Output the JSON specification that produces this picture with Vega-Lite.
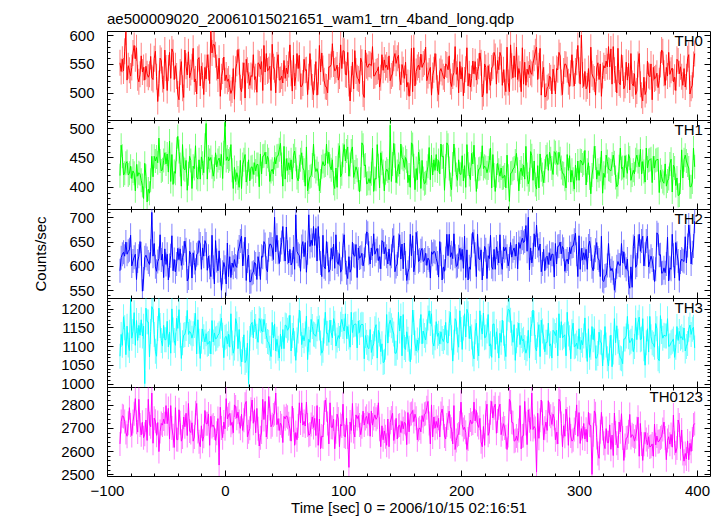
{
"$schema": "https://vega.github.io/schema/vega-lite/v6.json",
"background": "white",
"padding": {"left": 32, "top": 11, "right": 5, "bottom": 0},
"spacing": 0,
"bounds": "flush",
"config": {
 "view": {"stroke": "black", "strokeWidth": 1},
 "font": "Liberation Sans",
 "axis": {"grid": false, "domain": false, "format": "d", "tickColor": "black", "labelColor": "black", "labelFontSize": 15, "labelFont": "Liberation Sans", "titleFont": "Liberation Sans", "titleFontSize": 15, "titleFontWeight": "normal", "titleColor": "black", "labelFlush": false, "labelOverlap": false, "labelBound": false, "zindex": 2, "tickWidth": 1}
},
"data": {"values": [
{"t":-89,"a":552,"b":419,"c":590,"d":1073,"e":2631},
{"t":-88,"a":537,"b":471,"c":617,"d":1131,"e":2727},
{"t":-87,"a":558,"b":452,"c":624,"d":1102,"e":2752},
{"t":-86,"a":538,"b":420,"c":628,"d":1178,"e":2749},
{"t":-85,"a":572,"b":423,"c":620,"d":1149,"e":2727},
{"t":-84,"a":605,"b":440,"c":649,"d":1077,"e":2680},
{"t":-83,"a":522,"b":443,"c":624,"d":1153,"e":2664},
{"t":-82,"a":547,"b":420,"c":630,"d":1103,"e":2720},
{"t":-81,"a":539,"b":423,"c":633,"d":1088,"e":2787},
{"t":-80,"a":529,"b":435,"c":663,"d":1225,"e":2712},
{"t":-79,"a":544,"b":414,"c":600,"d":1121,"e":2667},
{"t":-78,"a":569,"b":427,"c":610,"d":1139,"e":2727},
{"t":-77,"a":582,"b":423,"c":618,"d":1189,"e":2761},
{"t":-76,"a":559,"b":393,"c":624,"d":1102,"e":2826},
{"t":-75,"a":578,"b":438,"c":572,"d":1168,"e":2724},
{"t":-74,"a":526,"b":418,"c":610,"d":1115,"e":2682},
{"t":-73,"a":519,"b":424,"c":620,"d":1155,"e":2823},
{"t":-72,"a":532,"b":422,"c":650,"d":1129,"e":2712},
{"t":-71,"a":564,"b":411,"c":625,"d":1170,"e":2670},
{"t":-70,"a":536,"b":402,"c":548,"d":1127,"e":2724},
{"t":-69,"a":544,"b":380,"c":573,"d":1153,"e":2658},
{"t":-68,"a":522,"b":440,"c":617,"d":1000,"e":2673},
{"t":-67,"a":546,"b":418,"c":622,"d":1201,"e":2734},
{"t":-66,"a":533,"b":374,"c":615,"d":1165,"e":2646},
{"t":-65,"a":527,"b":396,"c":608,"d":1164,"e":2823},
{"t":-64,"a":532,"b":389,"c":603,"d":1071,"e":2718},
{"t":-63,"a":563,"b":411,"c":630,"d":1139,"e":2705},
{"t":-62,"a":526,"b":452,"c":710,"d":1205,"e":2850},
{"t":-61,"a":523,"b":417,"c":620,"d":1197,"e":2634},
{"t":-60,"a":559,"b":452,"c":646,"d":1131,"e":2742},
{"t":-59,"a":572,"b":444,"c":598,"d":1086,"e":2729},
{"t":-58,"a":528,"b":451,"c":589,"d":1073,"e":2668},
{"t":-57,"a":485,"b":441,"c":609,"d":1147,"e":2723},
{"t":-56,"a":516,"b":483,"c":615,"d":1201,"e":2598},
{"t":-55,"a":560,"b":444,"c":664,"d":1155,"e":2684},
{"t":-54,"a":556,"b":427,"c":612,"d":1115,"e":2719},
{"t":-53,"a":523,"b":429,"c":624,"d":1100,"e":2712},
{"t":-52,"a":507,"b":445,"c":576,"d":1155,"e":2738},
{"t":-51,"a":574,"b":458,"c":635,"d":1117,"e":2718},
{"t":-50,"a":543,"b":439,"c":603,"d":1117,"e":2796},
{"t":-49,"a":504,"b":456,"c":624,"d":1166,"e":2718},
{"t":-48,"a":543,"b":425,"c":571,"d":1098,"e":2784},
{"t":-47,"a":570,"b":478,"c":601,"d":1137,"e":2652},
{"t":-46,"a":525,"b":409,"c":621,"d":1081,"e":2796},
{"t":-45,"a":576,"b":455,"c":662,"d":1199,"e":2700},
{"t":-44,"a":570,"b":404,"c":590,"d":1143,"e":2666},
{"t":-43,"a":523,"b":426,"c":613,"d":1115,"e":2616},
{"t":-42,"a":547,"b":423,"c":588,"d":1102,"e":2787},
{"t":-41,"a":529,"b":464,"c":604,"d":1174,"e":2650},
{"t":-40,"a":498,"b":486,"c":636,"d":1147,"e":2649},
{"t":-39,"a":488,"b":460,"c":613,"d":1197,"e":2778},
{"t":-38,"a":536,"b":438,"c":635,"d":1129,"e":2722},
{"t":-37,"a":554,"b":401,"c":601,"d":1067,"e":2643},
{"t":-36,"a":508,"b":472,"c":617,"d":1109,"e":2661},
{"t":-35,"a":492,"b":431,"c":626,"d":1129,"e":2747},
{"t":-34,"a":574,"b":429,"c":651,"d":1131,"e":2705},
{"t":-33,"a":546,"b":445,"c":633,"d":1147,"e":2763},
{"t":-32,"a":531,"b":394,"c":569,"d":1195,"e":2667},
{"t":-31,"a":571,"b":422,"c":575,"d":1131,"e":2805},
{"t":-30,"a":526,"b":452,"c":630,"d":1139,"e":2687},
{"t":-29,"a":535,"b":445,"c":624,"d":1135,"e":2680},
{"t":-28,"a":545,"b":397,"c":575,"d":1121,"e":2722},
{"t":-27,"a":577,"b":435,"c":627,"d":1133,"e":2643},
{"t":-26,"a":519,"b":431,"c":607,"d":1155,"e":2661},
{"t":-25,"a":524,"b":470,"c":591,"d":1187,"e":2765},
{"t":-24,"a":498,"b":416,"c":623,"d":1079,"e":2805},
{"t":-23,"a":558,"b":413,"c":626,"d":1170,"e":2684},
{"t":-22,"a":561,"b":446,"c":652,"d":1113,"e":2640},
{"t":-21,"a":512,"b":413,"c":645,"d":1067,"e":2619},
{"t":-20,"a":546,"b":451,"c":593,"d":1113,"e":2709},
{"t":-19,"a":530,"b":440,"c":637,"d":1145,"e":2643},
{"t":-18,"a":497,"b":424,"c":620,"d":1125,"e":2664},
{"t":-17,"a":544,"b":471,"c":652,"d":1111,"e":2775},
{"t":-16,"a":524,"b":508,"c":645,"d":1133,"e":2718},
{"t":-15,"a":566,"b":413,"c":591,"d":1105,"e":2718},
{"t":-14,"a":544,"b":451,"c":620,"d":1107,"e":2760},
{"t":-13,"a":516,"b":445,"c":597,"d":1113,"e":2625},
{"t":-12,"a":607,"b":450,"c":578,"d":1079,"e":2750},
{"t":-11,"a":569,"b":434,"c":663,"d":1168,"e":2706},
{"t":-10,"a":584,"b":418,"c":597,"d":1111,"e":2712},
{"t":-9,"a":583,"b":430,"c":563,"d":1135,"e":2700},
{"t":-8,"a":566,"b":458,"c":652,"d":1119,"e":2646},
{"t":-7,"a":544,"b":434,"c":611,"d":1121,"e":2677},
{"t":-6,"a":524,"b":445,"c":590,"d":1129,"e":2740},
{"t":-5,"a":560,"b":449,"c":631,"d":1133,"e":2540},
{"t":-4,"a":494,"b":436,"c":591,"d":1153,"e":2789},
{"t":-3,"a":528,"b":455,"c":550,"d":1174,"e":2700},
{"t":-2,"a":538,"b":414,"c":587,"d":1129,"e":2658},
{"t":-1,"a":562,"b":458,"c":607,"d":1069,"e":2725},
{"t":0,"a":521,"b":510,"c":597,"d":1123,"e":2696},
{"t":1,"a":531,"b":445,"c":563,"d":1126,"e":2826},
{"t":2,"a":520,"b":451,"c":647,"d":1106,"e":2739},
{"t":3,"a":524,"b":444,"c":578,"d":1132,"e":2755},
{"t":4,"a":509,"b":447,"c":619,"d":1097,"e":2762},
{"t":5,"a":499,"b":472,"c":576,"d":1186,"e":2711},
{"t":6,"a":505,"b":428,"c":606,"d":1108,"e":2724},
{"t":7,"a":542,"b":397,"c":597,"d":1081,"e":2679},
{"t":8,"a":489,"b":433,"c":613,"d":1095,"e":2799},
{"t":9,"a":541,"b":409,"c":600,"d":1173,"e":2790},
{"t":10,"a":551,"b":424,"c":597,"d":1159,"e":2742},
{"t":11,"a":575,"b":415,"c":629,"d":1093,"e":2768},
{"t":12,"a":554,"b":399,"c":639,"d":1144,"e":2727},
{"t":13,"a":509,"b":445,"c":651,"d":1079,"e":2698},
{"t":14,"a":502,"b":397,"c":661,"d":1058,"e":2759},
{"t":15,"a":530,"b":438,"c":600,"d":1091,"e":2689},
{"t":16,"a":552,"b":446,"c":625,"d":1130,"e":2733},
{"t":17,"a":491,"b":455,"c":659,"d":1056,"e":2802},
{"t":18,"a":558,"b":408,"c":570,"d":1062,"e":2814},
{"t":19,"a":539,"b":422,"c":610,"d":1108,"e":2661},
{"t":20,"a":529,"b":446,"c":622,"d":1000,"e":2683},
{"t":21,"a":513,"b":410,"c":567,"d":1120,"e":2698},
{"t":22,"a":530,"b":433,"c":568,"d":1158,"e":2780},
{"t":23,"a":528,"b":434,"c":585,"d":1163,"e":2820},
{"t":24,"a":566,"b":421,"c":587,"d":1122,"e":2720},
{"t":25,"a":523,"b":441,"c":607,"d":1171,"e":2778},
{"t":26,"a":528,"b":427,"c":604,"d":1152,"e":2679},
{"t":27,"a":501,"b":438,"c":572,"d":1126,"e":2784},
{"t":28,"a":552,"b":438,"c":619,"d":1110,"e":2696},
{"t":29,"a":550,"b":400,"c":604,"d":1173,"e":2622},
{"t":30,"a":541,"b":456,"c":572,"d":1169,"e":2658},
{"t":31,"a":554,"b":422,"c":620,"d":1140,"e":2682},
{"t":32,"a":504,"b":452,"c":618,"d":1138,"e":2823},
{"t":33,"a":582,"b":453,"c":650,"d":1171,"e":2736},
{"t":34,"a":536,"b":459,"c":644,"d":1152,"e":2814},
{"t":35,"a":568,"b":439,"c":595,"d":1128,"e":2661},
{"t":36,"a":538,"b":452,"c":588,"d":1112,"e":2704},
{"t":37,"a":540,"b":446,"c":633,"d":1110,"e":2835},
{"t":38,"a":546,"b":409,"c":645,"d":1094,"e":2784},
{"t":39,"a":504,"b":426,"c":644,"d":1072,"e":2705},
{"t":40,"a":584,"b":430,"c":635,"d":1163,"e":2714},
{"t":41,"a":545,"b":422,"c":613,"d":1122,"e":2755},
{"t":42,"a":540,"b":450,"c":700,"d":1159,"e":2762},
{"t":43,"a":500,"b":439,"c":629,"d":1087,"e":2850},
{"t":44,"a":548,"b":452,"c":663,"d":1118,"e":2714},
{"t":45,"a":566,"b":453,"c":628,"d":1094,"e":2740},
{"t":46,"a":522,"b":463,"c":605,"d":1068,"e":2689},
{"t":47,"a":523,"b":474,"c":633,"d":1132,"e":2721},
{"t":48,"a":529,"b":438,"c":648,"d":1093,"e":2709},
{"t":49,"a":517,"b":401,"c":681,"d":1144,"e":2637},
{"t":50,"a":556,"b":469,"c":634,"d":1093,"e":2749},
{"t":51,"a":525,"b":413,"c":610,"d":1156,"e":2739},
{"t":52,"a":543,"b":448,"c":680,"d":1154,"e":2752},
{"t":53,"a":533,"b":428,"c":628,"d":1142,"e":2746},
{"t":54,"a":549,"b":441,"c":606,"d":1148,"e":2718},
{"t":55,"a":583,"b":429,"c":634,"d":1182,"e":2696},
{"t":56,"a":534,"b":446,"c":602,"d":1087,"e":2643},
{"t":57,"a":503,"b":413,"c":607,"d":1128,"e":2793},
{"t":58,"a":565,"b":453,"c":639,"d":1148,"e":2734},
{"t":59,"a":512,"b":461,"c":593,"d":1106,"e":2625},
{"t":60,"a":528,"b":447,"c":705,"d":1062,"e":2680},
{"t":61,"a":568,"b":416,"c":630,"d":1116,"e":2649},
{"t":62,"a":542,"b":410,"c":624,"d":1140,"e":2708},
{"t":63,"a":565,"b":434,"c":621,"d":1196,"e":2808},
{"t":64,"a":511,"b":446,"c":589,"d":1161,"e":2721},
{"t":65,"a":511,"b":458,"c":640,"d":1104,"e":2808},
{"t":66,"a":517,"b":432,"c":650,"d":1128,"e":2712},
{"t":67,"a":558,"b":428,"c":619,"d":1114,"e":2728},
{"t":68,"a":539,"b":401,"c":648,"d":1132,"e":2708},
{"t":69,"a":540,"b":468,"c":587,"d":1180,"e":2811},
{"t":70,"a":497,"b":393,"c":627,"d":1064,"e":2712},
{"t":71,"a":528,"b":408,"c":705,"d":1118,"e":2668},
{"t":72,"a":568,"b":417,"c":640,"d":1110,"e":2674},
{"t":73,"a":535,"b":419,"c":653,"d":1171,"e":2715},
{"t":74,"a":510,"b":437,"c":642,"d":1152,"e":2747},
{"t":75,"a":497,"b":473,"c":681,"d":1132,"e":2702},
{"t":76,"a":527,"b":435,"c":642,"d":1130,"e":2741},
{"t":77,"a":554,"b":426,"c":677,"d":1126,"e":2667},
{"t":78,"a":496,"b":431,"c":610,"d":1146,"e":2796},
{"t":79,"a":519,"b":422,"c":681,"d":1171,"e":2625},
{"t":80,"a":582,"b":393,"c":636,"d":1148,"e":2738},
{"t":81,"a":536,"b":410,"c":606,"d":1108,"e":2610},
{"t":82,"a":569,"b":434,"c":578,"d":1081,"e":2665},
{"t":83,"a":542,"b":443,"c":663,"d":1089,"e":2661},
{"t":84,"a":521,"b":436,"c":598,"d":1140,"e":2765},
{"t":85,"a":511,"b":437,"c":594,"d":1190,"e":2820},
{"t":86,"a":510,"b":473,"c":650,"d":1134,"e":2778},
{"t":87,"a":500,"b":440,"c":625,"d":1134,"e":2719},
{"t":88,"a":545,"b":459,"c":587,"d":1110,"e":2631},
{"t":89,"a":545,"b":435,"c":593,"d":1169,"e":2808},
{"t":90,"a":549,"b":429,"c":636,"d":1136,"e":2703},
{"t":91,"a":585,"b":446,"c":614,"d":1122,"e":2702},
{"t":92,"a":550,"b":406,"c":645,"d":1173,"e":2738},
{"t":93,"a":538,"b":397,"c":595,"d":1161,"e":2610},
{"t":94,"a":540,"b":432,"c":664,"d":1100,"e":2683},
{"t":95,"a":548,"b":399,"c":608,"d":1116,"e":2759},
{"t":96,"a":522,"b":454,"c":603,"d":1128,"e":2738},
{"t":97,"a":529,"b":470,"c":625,"d":1120,"e":2619},
{"t":98,"a":583,"b":417,"c":587,"d":1158,"e":2715},
{"t":99,"a":542,"b":422,"c":593,"d":1171,"e":2708},
{"t":100,"a":573,"b":454,"c":642,"d":1152,"e":2802},
{"t":101,"a":572,"b":472,"c":664,"d":1140,"e":2665},
{"t":102,"a":532,"b":444,"c":607,"d":1186,"e":2661},
{"t":103,"a":531,"b":461,"c":586,"d":1120,"e":2741},
{"t":104,"a":570,"b":468,"c":574,"d":1152,"e":2661},
{"t":105,"a":516,"b":418,"c":619,"d":1124,"e":2530},
{"t":106,"a":486,"b":438,"c":587,"d":1097,"e":2725},
{"t":107,"a":524,"b":461,"c":594,"d":1190,"e":2689},
{"t":108,"a":553,"b":468,"c":649,"d":1136,"e":2805},
{"t":109,"a":507,"b":416,"c":622,"d":1156,"e":2684},
{"t":110,"a":573,"b":425,"c":620,"d":1158,"e":2661},
{"t":111,"a":538,"b":434,"c":644,"d":1159,"e":2756},
{"t":112,"a":526,"b":428,"c":576,"d":1095,"e":2740},
{"t":113,"a":524,"b":413,"c":637,"d":1167,"e":2753},
{"t":114,"a":516,"b":391,"c":616,"d":1136,"e":2712},
{"t":115,"a":560,"b":413,"c":618,"d":1156,"e":2671},
{"t":116,"a":553,"b":475,"c":626,"d":1158,"e":2705},
{"t":117,"a":498,"b":471,"c":600,"d":1157,"e":2772},
{"t":118,"a":492,"b":436,"c":613,"d":1066,"e":2712},
{"t":119,"a":574,"b":437,"c":642,"d":1128,"e":2740},
{"t":120,"a":547,"b":405,"c":670,"d":1110,"e":2750},
{"t":121,"a":544,"b":406,"c":667,"d":1096,"e":2718},
{"t":122,"a":550,"b":414,"c":626,"d":1093,"e":2763},
{"t":123,"a":549,"b":406,"c":604,"d":1144,"e":2664},
{"t":124,"a":547,"b":422,"c":637,"d":1083,"e":2772},
{"t":125,"a":580,"b":466,"c":621,"d":1098,"e":2712},
{"t":126,"a":529,"b":392,"c":666,"d":1106,"e":2740},
{"t":127,"a":530,"b":414,"c":624,"d":1146,"e":2756},
{"t":128,"a":536,"b":413,"c":631,"d":1157,"e":2737},
{"t":129,"a":538,"b":472,"c":636,"d":1068,"e":2746},
{"t":130,"a":545,"b":436,"c":611,"d":1142,"e":2808},
{"t":131,"a":510,"b":398,"c":619,"d":1132,"e":2694},
{"t":132,"a":526,"b":458,"c":594,"d":1085,"e":2619},
{"t":133,"a":566,"b":440,"c":652,"d":1106,"e":2709},
{"t":134,"a":539,"b":426,"c":649,"d":1056,"e":2649},
{"t":135,"a":557,"b":393,"c":625,"d":1058,"e":2687},
{"t":136,"a":544,"b":424,"c":638,"d":1097,"e":2662},
{"t":137,"a":548,"b":430,"c":620,"d":1184,"e":2625},
{"t":138,"a":540,"b":427,"c":604,"d":1108,"e":2738},
{"t":139,"a":564,"b":412,"c":635,"d":1158,"e":2619},
{"t":140,"a":521,"b":505,"c":601,"d":1169,"e":2724},
{"t":141,"a":529,"b":409,"c":620,"d":1154,"e":2743},
{"t":142,"a":533,"b":439,"c":653,"d":1142,"e":2763},
{"t":143,"a":560,"b":474,"c":662,"d":1132,"e":2646},
{"t":144,"a":568,"b":453,"c":588,"d":1081,"e":2683},
{"t":145,"a":551,"b":407,"c":599,"d":1081,"e":2741},
{"t":146,"a":560,"b":426,"c":604,"d":1097,"e":2652},
{"t":147,"a":565,"b":438,"c":642,"d":1190,"e":2709},
{"t":148,"a":527,"b":422,"c":664,"d":1140,"e":2712},
{"t":149,"a":514,"b":473,"c":614,"d":1180,"e":2680},
{"t":150,"a":549,"b":450,"c":645,"d":1074,"e":2728},
{"t":151,"a":540,"b":447,"c":594,"d":1184,"e":2696},
{"t":152,"a":525,"b":433,"c":647,"d":1096,"e":2724},
{"t":153,"a":553,"b":450,"c":606,"d":1091,"e":2719},
{"t":154,"a":510,"b":444,"c":570,"d":1138,"e":2628},
{"t":155,"a":518,"b":407,"c":587,"d":1118,"e":2766},
{"t":156,"a":494,"b":420,"c":595,"d":1094,"e":2683},
{"t":157,"a":517,"b":399,"c":665,"d":1058,"e":2759},
{"t":158,"a":577,"b":475,"c":621,"d":1097,"e":2762},
{"t":159,"a":502,"b":472,"c":662,"d":1196,"e":2775},
{"t":160,"a":578,"b":436,"c":588,"d":1163,"e":2727},
{"t":161,"a":512,"b":395,"c":606,"d":1108,"e":2759},
{"t":162,"a":537,"b":431,"c":669,"d":1087,"e":2741},
{"t":163,"a":544,"b":412,"c":647,"d":1116,"e":2649},
{"t":164,"a":548,"b":459,"c":609,"d":1089,"e":2693},
{"t":165,"a":540,"b":443,"c":612,"d":1140,"e":2700},
{"t":166,"a":567,"b":397,"c":631,"d":1184,"e":2683},
{"t":167,"a":544,"b":445,"c":636,"d":1106,"e":2753},
{"t":168,"a":550,"b":414,"c":609,"d":1140,"e":2727},
{"t":169,"a":553,"b":405,"c":612,"d":1128,"e":2759},
{"t":170,"a":579,"b":407,"c":626,"d":1116,"e":2762},
{"t":171,"a":521,"b":424,"c":601,"d":1138,"e":2787},
{"t":172,"a":530,"b":435,"c":616,"d":1175,"e":2814},
{"t":173,"a":538,"b":467,"c":612,"d":1194,"e":2719},
{"t":174,"a":544,"b":412,"c":575,"d":1160,"e":2631},
{"t":175,"a":496,"b":454,"c":629,"d":1186,"e":2799},
{"t":176,"a":530,"b":420,"c":624,"d":1110,"e":2661},
{"t":177,"a":540,"b":446,"c":630,"d":1100,"e":2747},
{"t":178,"a":568,"b":428,"c":628,"d":1122,"e":2699},
{"t":179,"a":545,"b":455,"c":615,"d":1165,"e":2728},
{"t":180,"a":508,"b":427,"c":606,"d":1126,"e":2702},
{"t":181,"a":497,"b":445,"c":577,"d":1134,"e":2741},
{"t":182,"a":537,"b":422,"c":650,"d":1106,"e":2661},
{"t":183,"a":542,"b":473,"c":624,"d":1138,"e":2762},
{"t":184,"a":535,"b":451,"c":571,"d":1120,"e":2781},
{"t":185,"a":528,"b":452,"c":598,"d":1112,"e":2744},
{"t":186,"a":524,"b":394,"c":589,"d":1122,"e":2665},
{"t":187,"a":550,"b":435,"c":615,"d":1163,"e":2652},
{"t":188,"a":548,"b":475,"c":665,"d":1110,"e":2712},
{"t":189,"a":540,"b":471,"c":621,"d":1108,"e":2743},
{"t":190,"a":564,"b":431,"c":665,"d":1160,"e":2772},
{"t":191,"a":519,"b":404,"c":618,"d":1190,"e":2706},
{"t":192,"a":511,"b":395,"c":627,"d":1122,"e":2694},
{"t":193,"a":529,"b":439,"c":615,"d":1060,"e":2631},
{"t":194,"a":535,"b":473,"c":666,"d":1110,"e":2796},
{"t":195,"a":580,"b":446,"c":620,"d":1173,"e":2607},
{"t":196,"a":532,"b":421,"c":599,"d":1165,"e":2646},
{"t":197,"a":544,"b":411,"c":601,"d":1116,"e":2668},
{"t":198,"a":500,"b":446,"c":619,"d":1097,"e":2674},
{"t":199,"a":554,"b":422,"c":636,"d":1194,"e":2721},
{"t":200,"a":524,"b":421,"c":613,"d":1144,"e":2811},
{"t":201,"a":544,"b":453,"c":634,"d":1091,"e":2715},
{"t":202,"a":495,"b":410,"c":595,"d":1148,"e":2693},
{"t":203,"a":522,"b":436,"c":661,"d":1186,"e":2703},
{"t":204,"a":541,"b":399,"c":576,"d":1124,"e":2681},
{"t":205,"a":578,"b":472,"c":633,"d":1198,"e":2607},
{"t":206,"a":512,"b":439,"c":571,"d":1186,"e":2652},
{"t":207,"a":533,"b":421,"c":598,"d":1120,"e":2712},
{"t":208,"a":510,"b":412,"c":593,"d":1152,"e":2734},
{"t":209,"a":525,"b":457,"c":642,"d":1124,"e":2718},
{"t":210,"a":555,"b":439,"c":669,"d":1079,"e":2721},
{"t":211,"a":533,"b":471,"c":650,"d":1066,"e":2811},
{"t":212,"a":554,"b":430,"c":624,"d":1138,"e":2730},
{"t":213,"a":522,"b":392,"c":578,"d":1161,"e":2775},
{"t":214,"a":537,"b":417,"c":665,"d":1094,"e":2715},
{"t":215,"a":546,"b":430,"c":615,"d":1074,"e":2702},
{"t":216,"a":569,"b":431,"c":613,"d":1194,"e":2741},
{"t":217,"a":552,"b":439,"c":633,"d":1150,"e":2640},
{"t":218,"a":493,"b":470,"c":571,"d":1132,"e":2619},
{"t":219,"a":499,"b":431,"c":604,"d":1188,"e":2706},
{"t":220,"a":550,"b":435,"c":640,"d":1122,"e":2625},
{"t":221,"a":544,"b":433,"c":633,"d":1124,"e":2765},
{"t":222,"a":499,"b":424,"c":574,"d":1140,"e":2802},
{"t":223,"a":547,"b":432,"c":621,"d":1184,"e":2668},
{"t":224,"a":527,"b":445,"c":615,"d":1100,"e":2683},
{"t":225,"a":513,"b":466,"c":663,"d":1106,"e":2765},
{"t":226,"a":543,"b":398,"c":598,"d":1070,"e":2814},
{"t":227,"a":546,"b":455,"c":593,"d":1158,"e":2743},
{"t":228,"a":570,"b":420,"c":634,"d":1159,"e":2787},
{"t":229,"a":563,"b":392,"c":593,"d":1091,"e":2802},
{"t":230,"a":515,"b":419,"c":639,"d":1138,"e":2677},
{"t":231,"a":556,"b":440,"c":626,"d":1114,"e":2730},
{"t":232,"a":540,"b":428,"c":606,"d":1068,"e":2787},
{"t":233,"a":570,"b":418,"c":664,"d":1134,"e":2802},
{"t":234,"a":563,"b":432,"c":607,"d":1110,"e":2671},
{"t":235,"a":513,"b":415,"c":593,"d":1169,"e":2696},
{"t":236,"a":540,"b":416,"c":639,"d":1134,"e":2718},
{"t":237,"a":518,"b":420,"c":631,"d":1094,"e":2700},
{"t":238,"a":502,"b":398,"c":638,"d":1072,"e":2662},
{"t":239,"a":579,"b":454,"c":620,"d":1175,"e":2607},
{"t":240,"a":518,"b":418,"c":600,"d":1198,"e":2667},
{"t":241,"a":502,"b":375,"c":614,"d":1196,"e":2823},
{"t":242,"a":583,"b":423,"c":648,"d":1169,"e":2811},
{"t":243,"a":546,"b":424,"c":618,"d":1134,"e":2724},
{"t":244,"a":526,"b":430,"c":631,"d":1110,"e":2722},
{"t":245,"a":564,"b":432,"c":637,"d":1157,"e":2643},
{"t":246,"a":527,"b":444,"c":620,"d":1062,"e":2646},
{"t":247,"a":579,"b":457,"c":645,"d":1114,"e":2665},
{"t":248,"a":523,"b":430,"c":594,"d":1130,"e":2646},
{"t":249,"a":542,"b":393,"c":648,"d":1161,"e":2689},
{"t":250,"a":532,"b":425,"c":636,"d":1104,"e":2796},
{"t":251,"a":502,"b":432,"c":649,"d":1128,"e":2610},
{"t":252,"a":578,"b":419,"c":657,"d":1114,"e":2665},
{"t":253,"a":515,"b":437,"c":648,"d":1118,"e":2667},
{"t":254,"a":553,"b":413,"c":651,"d":1096,"e":2814},
{"t":255,"a":513,"b":469,"c":683,"d":1081,"e":2719},
{"t":256,"a":541,"b":421,"c":630,"d":1093,"e":2628},
{"t":257,"a":532,"b":405,"c":700,"d":1142,"e":2778},
{"t":258,"a":548,"b":412,"c":592,"d":1068,"e":2731},
{"t":259,"a":535,"b":460,"c":637,"d":1144,"e":2694},
{"t":260,"a":532,"b":453,"c":606,"d":1160,"e":2850},
{"t":261,"a":551,"b":411,"c":623,"d":1196,"e":2693},
{"t":262,"a":560,"b":444,"c":666,"d":1161,"e":2706},
{"t":263,"a":571,"b":404,"c":639,"d":1096,"e":2697},
{"t":264,"a":579,"b":396,"c":684,"d":1087,"e":2510},
{"t":265,"a":523,"b":436,"c":642,"d":1130,"e":2763},
{"t":266,"a":547,"b":398,"c":632,"d":1157,"e":2655},
{"t":267,"a":577,"b":456,"c":645,"d":1072,"e":2733},
{"t":268,"a":496,"b":429,"c":588,"d":1169,"e":2820},
{"t":269,"a":532,"b":421,"c":604,"d":1140,"e":2763},
{"t":270,"a":544,"b":407,"c":634,"d":1124,"e":2649},
{"t":271,"a":493,"b":427,"c":590,"d":1085,"e":2699},
{"t":272,"a":494,"b":451,"c":617,"d":1110,"e":2725},
{"t":273,"a":509,"b":455,"c":620,"d":1110,"e":2689},
{"t":274,"a":511,"b":428,"c":603,"d":1161,"e":2817},
{"t":275,"a":529,"b":459,"c":627,"d":1100,"e":2759},
{"t":276,"a":526,"b":448,"c":611,"d":1106,"e":2750},
{"t":277,"a":498,"b":432,"c":624,"d":1068,"e":2715},
{"t":278,"a":541,"b":421,"c":624,"d":1142,"e":2759},
{"t":279,"a":526,"b":460,"c":577,"d":1138,"e":2741},
{"t":280,"a":498,"b":458,"c":646,"d":1128,"e":2649},
{"t":281,"a":542,"b":441,"c":604,"d":1142,"e":2681},
{"t":282,"a":540,"b":438,"c":640,"d":1074,"e":2631},
{"t":283,"a":570,"b":459,"c":641,"d":1186,"e":2823},
{"t":284,"a":564,"b":448,"c":649,"d":1122,"e":2814},
{"t":285,"a":518,"b":433,"c":625,"d":1165,"e":2719},
{"t":286,"a":497,"b":423,"c":640,"d":1122,"e":2619},
{"t":287,"a":538,"b":422,"c":634,"d":1126,"e":2709},
{"t":288,"a":550,"b":413,"c":589,"d":1130,"e":2664},
{"t":289,"a":549,"b":398,"c":610,"d":1074,"e":2781},
{"t":290,"a":540,"b":455,"c":614,"d":1190,"e":2738},
{"t":291,"a":519,"b":428,"c":604,"d":1132,"e":2625},
{"t":292,"a":511,"b":453,"c":638,"d":1122,"e":2744},
{"t":293,"a":534,"b":408,"c":625,"d":1066,"e":2665},
{"t":294,"a":566,"b":428,"c":640,"d":1138,"e":2643},
{"t":295,"a":533,"b":413,"c":641,"d":1161,"e":2649},
{"t":296,"a":512,"b":396,"c":653,"d":1098,"e":2693},
{"t":297,"a":538,"b":437,"c":667,"d":1100,"e":2721},
{"t":298,"a":553,"b":411,"c":624,"d":1108,"e":2799},
{"t":299,"a":582,"b":444,"c":578,"d":1093,"e":2664},
{"t":300,"a":539,"b":411,"c":662,"d":1146,"e":2766},
{"t":301,"a":515,"b":445,"c":593,"d":1091,"e":2633},
{"t":302,"a":600,"b":444,"c":636,"d":1115,"e":2697},
{"t":303,"a":531,"b":437,"c":612,"d":1103,"e":2655},
{"t":304,"a":511,"b":440,"c":627,"d":1127,"e":2719},
{"t":305,"a":537,"b":462,"c":613,"d":1175,"e":2652},
{"t":306,"a":507,"b":403,"c":634,"d":1101,"e":2694},
{"t":307,"a":512,"b":428,"c":593,"d":1059,"e":2639},
{"t":308,"a":542,"b":441,"c":641,"d":1146,"e":2767},
{"t":309,"a":500,"b":415,"c":651,"d":1070,"e":2712},
{"t":310,"a":579,"b":388,"c":635,"d":1097,"e":2710},
{"t":311,"a":533,"b":420,"c":598,"d":1152,"e":2500},
{"t":312,"a":527,"b":434,"c":590,"d":1117,"e":2671},
{"t":313,"a":524,"b":469,"c":618,"d":1146,"e":2773},
{"t":314,"a":496,"b":449,"c":632,"d":1068,"e":2761},
{"t":315,"a":543,"b":413,"c":648,"d":1068,"e":2659},
{"t":316,"a":552,"b":428,"c":616,"d":1080,"e":2590},
{"t":317,"a":523,"b":419,"c":612,"d":1137,"e":2569},
{"t":318,"a":550,"b":430,"c":578,"d":1111,"e":2683},
{"t":319,"a":494,"b":461,"c":661,"d":1109,"e":2767},
{"t":320,"a":530,"b":389,"c":570,"d":1047,"e":2697},
{"t":321,"a":547,"b":423,"c":568,"d":1097,"e":2634},
{"t":322,"a":543,"b":416,"c":579,"d":1152,"e":2611},
{"t":323,"a":555,"b":454,"c":581,"d":1103,"e":2697},
{"t":324,"a":545,"b":443,"c":601,"d":1066,"e":2637},
{"t":325,"a":580,"b":430,"c":646,"d":1047,"e":2636},
{"t":326,"a":545,"b":429,"c":601,"d":1095,"e":2713},
{"t":327,"a":576,"b":427,"c":590,"d":1129,"e":2608},
{"t":328,"a":515,"b":439,"c":595,"d":1045,"e":2669},
{"t":329,"a":580,"b":454,"c":586,"d":1084,"e":2581},
{"t":330,"a":539,"b":441,"c":550,"d":1173,"e":2764},
{"t":331,"a":524,"b":416,"c":570,"d":1109,"e":2678},
{"t":332,"a":500,"b":400,"c":598,"d":1154,"e":2634},
{"t":333,"a":577,"b":404,"c":609,"d":1113,"e":2614},
{"t":334,"a":517,"b":434,"c":602,"d":1083,"e":2725},
{"t":335,"a":514,"b":466,"c":601,"d":1068,"e":2683},
{"t":336,"a":566,"b":431,"c":646,"d":1066,"e":2761},
{"t":337,"a":543,"b":433,"c":606,"d":1053,"e":2656},
{"t":338,"a":507,"b":416,"c":629,"d":1119,"e":2560},
{"t":339,"a":513,"b":453,"c":601,"d":1119,"e":2624},
{"t":340,"a":553,"b":434,"c":593,"d":1127,"e":2656},
{"t":341,"a":522,"b":423,"c":614,"d":1179,"e":2659},
{"t":342,"a":551,"b":455,"c":566,"d":1125,"e":2683},
{"t":343,"a":505,"b":449,"c":554,"d":1109,"e":2758},
{"t":344,"a":568,"b":411,"c":598,"d":1113,"e":2659},
{"t":345,"a":516,"b":420,"c":556,"d":1121,"e":2671},
{"t":346,"a":512,"b":428,"c":640,"d":1085,"e":2665},
{"t":347,"a":533,"b":422,"c":661,"d":1099,"e":2643},
{"t":348,"a":497,"b":446,"c":597,"d":1175,"e":2662},
{"t":349,"a":503,"b":454,"c":602,"d":1117,"e":2696},
{"t":350,"a":549,"b":443,"c":640,"d":1162,"e":2746},
{"t":351,"a":568,"b":434,"c":665,"d":1177,"e":2578},
{"t":352,"a":515,"b":464,"c":630,"d":1117,"e":2719},
{"t":353,"a":496,"b":422,"c":651,"d":1119,"e":2631},
{"t":354,"a":486,"b":443,"c":661,"d":1173,"e":2560},
{"t":355,"a":527,"b":426,"c":600,"d":1093,"e":2630},
{"t":356,"a":497,"b":408,"c":624,"d":1049,"e":2681},
{"t":357,"a":504,"b":466,"c":651,"d":1109,"e":2650},
{"t":358,"a":555,"b":432,"c":661,"d":1146,"e":2627},
{"t":359,"a":530,"b":445,"c":598,"d":1084,"e":2662},
{"t":360,"a":528,"b":446,"c":609,"d":1179,"e":2618},
{"t":361,"a":550,"b":448,"c":620,"d":1125,"e":2621},
{"t":362,"a":488,"b":407,"c":612,"d":1109,"e":2631},
{"t":363,"a":544,"b":452,"c":595,"d":1105,"e":2578},
{"t":364,"a":524,"b":432,"c":568,"d":1097,"e":2716},
{"t":365,"a":526,"b":445,"c":593,"d":1160,"e":2627},
{"t":366,"a":534,"b":446,"c":668,"d":1146,"e":2665},
{"t":367,"a":509,"b":447,"c":664,"d":1066,"e":2640},
{"t":368,"a":521,"b":390,"c":622,"d":1061,"e":2643},
{"t":369,"a":549,"b":428,"c":623,"d":1181,"e":2656},
{"t":370,"a":574,"b":417,"c":585,"d":1139,"e":2662},
{"t":371,"a":571,"b":409,"c":586,"d":1121,"e":2693},
{"t":372,"a":534,"b":406,"c":596,"d":1129,"e":2725},
{"t":373,"a":513,"b":439,"c":586,"d":1127,"e":2656},
{"t":374,"a":544,"b":401,"c":604,"d":1127,"e":2563},
{"t":375,"a":529,"b":410,"c":659,"d":1173,"e":2646},
{"t":376,"a":570,"b":414,"c":569,"d":1099,"e":2662},
{"t":377,"a":532,"b":439,"c":596,"d":1101,"e":2630},
{"t":378,"a":539,"b":447,"c":593,"d":1109,"e":2672},
{"t":379,"a":543,"b":391,"c":665,"d":1113,"e":2617},
{"t":380,"a":519,"b":437,"c":622,"d":1119,"e":2755},
{"t":381,"a":527,"b":432,"c":575,"d":1070,"e":2634},
{"t":382,"a":504,"b":402,"c":648,"d":1097,"e":2593},
{"t":383,"a":558,"b":415,"c":626,"d":1152,"e":2614},
{"t":384,"a":555,"b":385,"c":610,"d":1115,"e":2734},
{"t":385,"a":533,"b":386,"c":570,"d":1139,"e":2713},
{"t":386,"a":545,"b":408,"c":608,"d":1121,"e":2611},
{"t":387,"a":528,"b":463,"c":614,"d":1125,"e":2691},
{"t":388,"a":513,"b":415,"c":611,"d":1117,"e":2590},
{"t":389,"a":542,"b":446,"c":609,"d":1148,"e":2557},
{"t":390,"a":510,"b":454,"c":660,"d":1087,"e":2590},
{"t":391,"a":528,"b":444,"c":606,"d":1099,"e":2566},
{"t":392,"a":559,"b":437,"c":642,"d":1107,"e":2644},
{"t":393,"a":566,"b":432,"c":684,"d":1145,"e":2563},
{"t":394,"a":498,"b":400,"c":660,"d":1156,"e":2634},
{"t":395,"a":508,"b":400,"c":604,"d":1131,"e":2599},
{"t":396,"a":513,"b":408,"c":627,"d":1145,"e":2652},
{"t":397,"a":549,"b":466,"c":641,"d":1150,"e":2712},
{"t":398,"a":568,"b":434,"c":692,"d":1095,"e":2719}
]},
"vconcat": [
{
 "width": 603, "height": 89,
 "title": {"text": "ae500009020_20061015021651_wam1_trn_4band_long.qdp", "anchor": "start", "frame": "group", "fontSize": 15, "fontWeight": "normal", "font": "Liberation Sans", "color": "black", "offset": 1},
 "resolve": {"axis": {"x": "independent", "y": "independent"}},
 "layer": [
  {"mark": {"type": "tick", "orient": "vertical", "size": 26, "thickness": 1, "color": "#ff0000", "opacity": 0.5, "clip": true},
   "encoding": {
    "x": {"field": "t", "type": "quantitative", "scale": {"domain": [-100, 411], "nice": false, "zero": false}, "axis": {"orient": "bottom", "values": [-100,0,100,200,300,400], "tickSize": -6, "labels": false, "title": null}},
    "y": {"field": "a", "type": "quantitative", "scale": {"domain": [453, 607], "nice": false, "zero": false}, "axis": {"orient": "left", "values": [500,550,600], "tickSize": -6, "labelPadding": 19, "title": null}}}},
  {"mark": {"type": "line", "color": "#ff0000", "strokeWidth": 1, "clip": true},
   "encoding": {
    "x": {"field": "t", "type": "quantitative", "scale": {"domain": [-100, 411], "nice": false, "zero": false}, "axis": {"orient": "bottom", "values": [-80,-60,-40,-20,20,40,60,80,120,140,160,180,220,240,260,280,320,340,360,380], "tickSize": -3, "labels": false, "title": null}},
    "y": {"field": "a", "type": "quantitative", "scale": {"domain": [453, 607], "nice": false, "zero": false}, "axis": {"orient": "left", "values": [460,470,480,490,510,520,530,540,560,570,580,590], "tickSize": -3, "labels": false, "title": null}}}},
  {"data": {"values": [{"lab": "TH0"}]},
   "mark": {"type": "text", "align": "right", "baseline": "alphabetic", "fontSize": 15, "font": "Liberation Sans", "color": "black"},
   "encoding": {
    "text": {"field": "lab"},
    "x": {"datum": 405, "type": "quantitative", "scale": {"domain": [-100, 411], "nice": false, "zero": false}, "axis": {"orient": "top", "values": [-100,0,100,200,300,400], "tickSize": -6, "labels": false, "title": null}},
    "y": {"datum": 580.5, "type": "quantitative", "scale": {"domain": [453, 607], "nice": false, "zero": false}, "axis": {"orient": "right", "values": [500,550,600], "tickSize": -6, "labels": false, "title": null}}}},
  {"data": {"values": [{"lab": ""}]},
   "mark": {"type": "point", "opacity": 0},
   "encoding": {
    "x": {"datum": 0, "type": "quantitative", "scale": {"domain": [-100, 411], "nice": false, "zero": false}, "axis": {"orient": "top", "values": [-80,-60,-40,-20,20,40,60,80,120,140,160,180,220,240,260,280,320,340,360,380], "tickSize": -3, "labels": false, "title": null}},
    "y": {"datum": 500, "type": "quantitative", "scale": {"domain": [453, 607], "nice": false, "zero": false}, "axis": {"orient": "right", "values": [460,470,480,490,510,520,530,540,560,570,580,590], "tickSize": -3, "labels": false, "title": null}}}}
 ]
},
{
 "width": 603, "height": 89,
 "resolve": {"axis": {"x": "independent", "y": "independent"}},
 "layer": [
  {"mark": {"type": "tick", "orient": "vertical", "size": 24, "thickness": 1, "color": "#00ff00", "opacity": 0.5, "clip": true},
   "encoding": {
    "x": {"field": "t", "type": "quantitative", "scale": {"domain": [-100, 411], "nice": false, "zero": false}, "axis": {"orient": "bottom", "values": [-100,0,100,200,300,400], "tickSize": -6, "labels": false, "title": null}},
    "y": {"field": "b", "type": "quantitative", "scale": {"domain": [362, 514], "nice": false, "zero": false}, "axis": {"orient": "left", "values": [400,450,500], "tickSize": -6, "labelPadding": 19, "title": null}}}},
  {"mark": {"type": "line", "color": "#00ff00", "strokeWidth": 1, "clip": true},
   "encoding": {
    "x": {"field": "t", "type": "quantitative", "scale": {"domain": [-100, 411], "nice": false, "zero": false}, "axis": {"orient": "bottom", "values": [-80,-60,-40,-20,20,40,60,80,120,140,160,180,220,240,260,280,320,340,360,380], "tickSize": -3, "labels": false, "title": null}},
    "y": {"field": "b", "type": "quantitative", "scale": {"domain": [362, 514], "nice": false, "zero": false}, "axis": {"orient": "left", "values": [370,380,390,410,420,430,440,460,470,480,490,510], "tickSize": -3, "labels": false, "title": null}}}},
  {"data": {"values": [{"lab": "TH1"}]},
   "mark": {"type": "text", "align": "right", "baseline": "alphabetic", "fontSize": 15, "font": "Liberation Sans", "color": "black"},
   "encoding": {
    "text": {"field": "lab"},
    "x": {"datum": 405, "type": "quantitative", "scale": {"domain": [-100, 411], "nice": false, "zero": false}, "axis": {"orient": "top", "values": [-100,0,100,200,300,400], "tickSize": -6, "labels": false, "title": null}},
    "y": {"datum": 488, "type": "quantitative", "scale": {"domain": [362, 514], "nice": false, "zero": false}, "axis": {"orient": "right", "values": [400,450,500], "tickSize": -6, "labels": false, "title": null}}}},
  {"data": {"values": [{"lab": ""}]},
   "mark": {"type": "point", "opacity": 0},
   "encoding": {
    "x": {"datum": 0, "type": "quantitative", "scale": {"domain": [-100, 411], "nice": false, "zero": false}, "axis": {"orient": "top", "values": [-80,-60,-40,-20,20,40,60,80,120,140,160,180,220,240,260,280,320,340,360,380], "tickSize": -3, "labels": false, "title": null}},
    "y": {"datum": 450, "type": "quantitative", "scale": {"domain": [362, 514], "nice": false, "zero": false}, "axis": {"orient": "right", "values": [370,380,390,410,420,430,440,460,470,480,490,510], "tickSize": -3, "labels": false, "title": null}}}}
 ]
},
{
 "width": 603, "height": 89,
 "resolve": {"axis": {"x": "independent", "y": "independent"}},
 "layer": [
  {"mark": {"type": "tick", "orient": "vertical", "size": 24, "thickness": 1, "color": "#0000ff", "opacity": 0.5, "clip": true},
   "encoding": {
    "x": {"field": "t", "type": "quantitative", "scale": {"domain": [-100, 411], "nice": false, "zero": false}, "axis": {"orient": "bottom", "values": [-100,0,100,200,300,400], "tickSize": -6, "labels": false, "title": null}},
    "y": {"field": "c", "type": "quantitative", "scale": {"domain": [534, 717], "nice": false, "zero": false}, "axis": {"orient": "left", "values": [550,600,650,700], "tickSize": -6, "labelPadding": 19, "title": "Counts/sec", "titleX": -62, "titleY": 44.5, "titleAngle": 270, "titleBaseline": "alphabetic", "titleAlign": "center"}}}},
  {"mark": {"type": "line", "color": "#0000ff", "strokeWidth": 1, "clip": true},
   "encoding": {
    "x": {"field": "t", "type": "quantitative", "scale": {"domain": [-100, 411], "nice": false, "zero": false}, "axis": {"orient": "bottom", "values": [-80,-60,-40,-20,20,40,60,80,120,140,160,180,220,240,260,280,320,340,360,380], "tickSize": -3, "labels": false, "title": null}},
    "y": {"field": "c", "type": "quantitative", "scale": {"domain": [534, 717], "nice": false, "zero": false}, "axis": {"orient": "left", "values": [540,560,570,580,590,610,620,630,640,660,670,680,690,710], "tickSize": -3, "labels": false, "title": null}}}},
  {"data": {"values": [{"lab": "TH2"}]},
   "mark": {"type": "text", "align": "right", "baseline": "alphabetic", "fontSize": 15, "font": "Liberation Sans", "color": "black"},
   "encoding": {
    "text": {"field": "lab"},
    "x": {"datum": 405, "type": "quantitative", "scale": {"domain": [-100, 411], "nice": false, "zero": false}, "axis": {"orient": "top", "values": [-100,0,100,200,300,400], "tickSize": -6, "labels": false, "title": null}},
    "y": {"datum": 685.5, "type": "quantitative", "scale": {"domain": [534, 717], "nice": false, "zero": false}, "axis": {"orient": "right", "values": [550,600,650,700], "tickSize": -6, "labels": false, "title": null}}}},
  {"data": {"values": [{"lab": ""}]},
   "mark": {"type": "point", "opacity": 0},
   "encoding": {
    "x": {"datum": 0, "type": "quantitative", "scale": {"domain": [-100, 411], "nice": false, "zero": false}, "axis": {"orient": "top", "values": [-80,-60,-40,-20,20,40,60,80,120,140,160,180,220,240,260,280,320,340,360,380], "tickSize": -3, "labels": false, "title": null}},
    "y": {"datum": 600, "type": "quantitative", "scale": {"domain": [534, 717], "nice": false, "zero": false}, "axis": {"orient": "right", "values": [540,560,570,580,590,610,620,630,640,660,670,680,690,710], "tickSize": -3, "labels": false, "title": null}}}}
 ]
},
{
 "width": 603, "height": 89,
 "resolve": {"axis": {"x": "independent", "y": "independent"}},
 "layer": [
  {"mark": {"type": "tick", "orient": "vertical", "size": 25, "thickness": 1, "color": "#00ffff", "opacity": 0.55, "clip": true},
   "encoding": {
    "x": {"field": "t", "type": "quantitative", "scale": {"domain": [-100, 411], "nice": false, "zero": false}, "axis": {"orient": "bottom", "values": [-100,0,100,200,300,400], "tickSize": -6, "labels": false, "title": null}},
    "y": {"field": "d", "type": "quantitative", "scale": {"domain": [991, 1228], "nice": false, "zero": false}, "axis": {"orient": "left", "values": [1000,1050,1100,1150,1200], "tickSize": -6, "labelPadding": 19, "title": null}}}},
  {"mark": {"type": "line", "color": "#00ffff", "strokeWidth": 1, "clip": true},
   "encoding": {
    "x": {"field": "t", "type": "quantitative", "scale": {"domain": [-100, 411], "nice": false, "zero": false}, "axis": {"orient": "bottom", "values": [-80,-60,-40,-20,20,40,60,80,120,140,160,180,220,240,260,280,320,340,360,380], "tickSize": -3, "labels": false, "title": null}},
    "y": {"field": "d", "type": "quantitative", "scale": {"domain": [991, 1228], "nice": false, "zero": false}, "axis": {"orient": "left", "values": [1010,1020,1030,1040,1060,1070,1080,1090,1110,1120,1130,1140,1160,1170,1180,1190,1210,1220], "tickSize": -3, "labels": false, "title": null}}}},
  {"data": {"values": [{"lab": "TH3"}]},
   "mark": {"type": "text", "align": "right", "baseline": "alphabetic", "fontSize": 15, "font": "Liberation Sans", "color": "black"},
   "encoding": {
    "text": {"field": "lab"},
    "x": {"datum": 405, "type": "quantitative", "scale": {"domain": [-100, 411], "nice": false, "zero": false}, "axis": {"orient": "top", "values": [-100,0,100,200,300,400], "tickSize": -6, "labels": false, "title": null}},
    "y": {"datum": 1187, "type": "quantitative", "scale": {"domain": [991, 1228], "nice": false, "zero": false}, "axis": {"orient": "right", "values": [1000,1050,1100,1150,1200], "tickSize": -6, "labels": false, "title": null}}}},
  {"data": {"values": [{"lab": ""}]},
   "mark": {"type": "point", "opacity": 0},
   "encoding": {
    "x": {"datum": 0, "type": "quantitative", "scale": {"domain": [-100, 411], "nice": false, "zero": false}, "axis": {"orient": "top", "values": [-80,-60,-40,-20,20,40,60,80,120,140,160,180,220,240,260,280,320,340,360,380], "tickSize": -3, "labels": false, "title": null}},
    "y": {"datum": 1100, "type": "quantitative", "scale": {"domain": [991, 1228], "nice": false, "zero": false}, "axis": {"orient": "right", "values": [1010,1020,1030,1040,1060,1070,1080,1090,1110,1120,1130,1140,1160,1170,1180,1190,1210,1220], "tickSize": -3, "labels": false, "title": null}}}}
 ]
},
{
 "width": 603, "height": 89,
 "resolve": {"axis": {"x": "independent", "y": "independent"}},
 "layer": [
  {"mark": {"type": "tick", "orient": "vertical", "size": 24, "thickness": 1, "color": "#ff00ff", "opacity": 0.5, "clip": true},
   "encoding": {
    "x": {"field": "t", "type": "quantitative", "scale": {"domain": [-100, 411], "nice": false, "zero": false}, "axis": {"orient": "bottom", "values": [-100,0,100,200,300,400], "tickSize": -6, "labelPadding": 13, "title": "Time [sec] 0 = 2006/10/15 02:16:51", "titlePadding": 2}},
    "y": {"field": "e", "type": "quantitative", "scale": {"domain": [2493, 2876], "nice": false, "zero": false}, "axis": {"orient": "left", "values": [2500,2600,2700,2800], "tickSize": -6, "labelPadding": 19, "title": null}}}},
  {"mark": {"type": "line", "color": "#ff00ff", "strokeWidth": 1, "clip": true},
   "encoding": {
    "x": {"field": "t", "type": "quantitative", "scale": {"domain": [-100, 411], "nice": false, "zero": false}, "axis": {"orient": "bottom", "values": [-80,-60,-40,-20,20,40,60,80,120,140,160,180,220,240,260,280,320,340,360,380], "tickSize": -3, "labels": false, "title": null}},
    "y": {"field": "e", "type": "quantitative", "scale": {"domain": [2493, 2876], "nice": false, "zero": false}, "axis": {"orient": "left", "values": [2520,2540,2560,2580,2620,2640,2660,2680,2720,2740,2760,2780,2820,2840,2860], "tickSize": -3, "labels": false, "title": null}}}},
  {"data": {"values": [{"lab": "TH0123"}]},
   "mark": {"type": "text", "align": "right", "baseline": "alphabetic", "fontSize": 15, "font": "Liberation Sans", "color": "black"},
   "encoding": {
    "text": {"field": "lab"},
    "x": {"datum": 405, "type": "quantitative", "scale": {"domain": [-100, 411], "nice": false, "zero": false}, "axis": {"orient": "top", "values": [-100,0,100,200,300,400], "tickSize": -6, "labels": false, "title": null}},
    "y": {"datum": 2810, "type": "quantitative", "scale": {"domain": [2493, 2876], "nice": false, "zero": false}, "axis": {"orient": "right", "values": [2500,2600,2700,2800], "tickSize": -6, "labels": false, "title": null}}}},
  {"data": {"values": [{"lab": ""}]},
   "mark": {"type": "point", "opacity": 0},
   "encoding": {
    "x": {"datum": 0, "type": "quantitative", "scale": {"domain": [-100, 411], "nice": false, "zero": false}, "axis": {"orient": "top", "values": [-80,-60,-40,-20,20,40,60,80,120,140,160,180,220,240,260,280,320,340,360,380], "tickSize": -3, "labels": false, "title": null}},
    "y": {"datum": 2700, "type": "quantitative", "scale": {"domain": [2493, 2876], "nice": false, "zero": false}, "axis": {"orient": "right", "values": [2520,2540,2560,2580,2620,2640,2660,2680,2720,2740,2760,2780,2820,2840,2860], "tickSize": -3, "labels": false, "title": null}}}}
 ]
}
]
}
